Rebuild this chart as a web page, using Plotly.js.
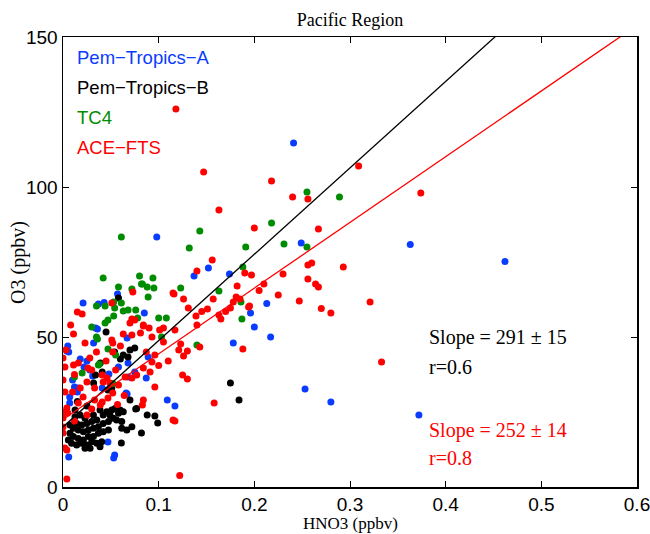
<!DOCTYPE html>
<html>
<head>
<meta charset="utf-8">
<script src="https://cdn.plot.ly/plotly-3.0.1.min.js"></script>
<style>html,body{margin:0;padding:0;background:#fff;}</style>
</head>
<body>
<div id="chart" style="width:650px;height:534px;"></div>
<script>
// ---- data (HNO3 ppbv, O3 ppbv) ----
var pemA_x = [0.241,0.249,0.363,0.462,0.098,0.152,0.137,0.174,0.085,0.196,0.213,0.200,0.217,0.253,0.280,0.372,0.178,0.109,0.117,0.067,0.047,0.054,0.053,0.006,0.007,0.021,0.037,0.057,0.036,0.005,0.004,0.067,0.032,0.018,0.025,0.028,0.068,0.048,0.068,0.087,0.012,0.007,0.015,0.066,0.034,0.006,0.022,0.010,0.016,0.075,0.089,0.041,0.043,0.031,0.058];
var pemA_y = [114.7,81.3,80.8,75.2,83.3,73.0,70.3,71.0,58.0,58.0,61.2,53.3,50.0,32.7,28.3,24.0,48.0,29.0,27.0,31.0,15.0,10.7,9.7,10.0,28.0,61.3,61.0,64.3,52.7,47.0,45.3,49.7,48.0,42.7,42.0,39.0,41.3,37.7,36.7,36.3,33.3,30.0,31.7,31.3,53.0,45.0,40.0,35.7,33.0,38.3,43.3,33.0,61.5,37.0,40.0];

var pemB_x = [0.0126,0.0178,0.023,0.0143,0.0195,0.0248,0.030,0.0353,0.0108,0.016,0.0213,0.0265,0.0318,0.037,0.042,0.0475,0.0527,0.058,0.0597,0.063,0.051,0.0544,0.049,0.056,0.0614,0.0073,0.0056,0.0108,0.016,0.0213,0.0265,0.0318,0.037,0.042,0.0475,0.0614,0.0667,0.072,0.077,0.009,0.0143,0.0195,0.0248,0.030,0.0353,0.0405,0.023,0.0283,0.0387,0.0073,0.0126,0.042,0.0387,0.0457,0.0318,0.175,0.184,0.096,0.099,0.061,0.076,0.058,0.045,0.063,0.068,0.060,0.039,0.041,0.032,0.051,0.047,0.034,0.070,0.075,0.054,0.088,0.082,0.025,0.015,0.070];
var pemB_y = [23.4,24.0,22.9,21.2,20.7,21.2,21.8,22.3,19.6,19.0,18.4,19.0,19.6,20.1,21.2,21.8,22.9,24.6,25.7,25.1,25.7,26.2,24.0,22.3,21.8,17.9,15.7,16.8,16.2,15.7,16.8,16.8,17.9,18.4,19.0,19.6,19.0,20.1,26.2,14.6,14.0,14.6,14.0,15.1,14.6,15.1,12.9,12.9,13.4,20.7,25.7,24.0,25.7,25.1,24.0,34.7,29.0,23.7,21.3,14.7,26.0,63.0,51.7,44.0,43.3,42.7,41.3,38.3,34.7,33.0,32.3,37.3,45.7,46.3,45.0,24.0,18.0,27.0,28.5,29.0];

var tc4_x = [0.061,0.042,0.080,0.094,0.058,0.082,0.088,0.095,0.089,0.061,0.143,0.132,0.123,0.035,0.044,0.054,0.063,0.068,0.076,0.053,0.078,0.100,0.108,0.218,0.255,0.289,0.231,0.191,0.255,0.188,0.163,0.186,0.187,0.103,0.140,0.044,0.047,0.030,0.035,0.036,0.037,0.020,0.038,0.012,0.053,0.083,0.047,0.055,0.072,0.052];
var tc4_y = [83.3,69.7,70.3,69.7,66.7,67.7,66.7,66.3,63.3,61.3,85.3,79.7,66.3,60.3,60.3,59.7,58.7,59.0,59.0,57.0,56.3,56.3,56.3,88.0,98.3,96.7,81.0,80.0,80.0,73.3,65.3,61.7,56.0,50.0,47.3,54.7,55.7,53.3,50.0,49.3,40.7,38.0,41.0,36.7,61.7,67.7,46.0,44.0,66.0,34.5];

var ace_x = [0.118,0.147,0.218,0.163,0.240,0.256,0.200,0.267,0.140,0.190,0.197,0.230,0.256,0.260,0.256,0.264,0.267,0.210,0.182,0.115,0.126,0.131,0.157,0.151,0.175,0.181,0.185,0.178,0.163,0.165,0.139,0.140,0.194,0.084,0.105,0.309,0.374,0.293,0.195,0.321,0.188,0.333,0.122,0.004,0.158,0.117,0.156,0.116,0.101,0.117,0.105,0.123,0.143,0.121,0.130,0.126,0.125,0.130,0.096,0.096,0.073,0.051,0.015,0.020,0.072,0.070,0.075,0.081,0.084,0.090,0.093,0.072,0.023,0.051,0.052,0.052,0.000,0.003,0.002,0.011,0.016,0.026,0.030,0.041,0.046,0.042,0.049,0.058,0.065,0.072,0.077,0.084,0.091,0.093,0.025,0.018,0.010,0.000,0.002,0.021,0.033,0.041,0.052,0.047,0.083,0.084,0.004,0.000,0.005,0.000,0.002,0.000,0.000,0.016,0.039,0.004,0.115,0.060,0.063,0.110,0.087,0.100,0.145,0.170,0.205,0.225,0.247,0.280,0.270,0.035,0.028,0.045,0.055,0.012,0.033,0.064,0.025,0.012,0.030,0.057,0.011,0.008];
var ace_y = [126.0,105.0,102.0,92.3,96.7,96.0,86.3,86.0,72.0,71.3,70.7,71.0,74.0,74.7,69.3,67.7,66.7,67.7,67.0,64.7,62.7,59.7,62.7,59.3,59.7,63.3,62.7,61.7,57.3,56.0,57.0,54.0,60.0,54.0,53.0,107.0,98.0,73.3,60.3,61.7,46.0,41.7,3.8,2.7,28.0,22.0,75.7,64.3,52.3,52.3,48.3,47.7,46.7,45.7,45.3,43.7,37.3,36.0,33.3,44.0,65.0,61.3,58.3,57.7,56.0,54.7,55.7,51.3,53.7,53.0,50.0,50.7,48.0,49.0,48.0,45.0,43.0,45.7,40.0,40.7,41.3,39.7,39.0,37.3,36.3,35.0,34.7,34.0,36.7,36.3,37.3,39.7,38.3,41.7,35.0,33.0,31.7,35.7,31.7,30.0,29.0,28.3,31.3,29.7,27.3,29.0,26.3,25.0,24.7,18.0,13.0,20.0,23.0,28.0,27.3,12.3,22.3,47.0,51.0,42.0,45.0,40.5,58.5,58.5,65.5,64.0,62.0,58.0,59.5,45.0,43.0,42.0,39.0,37.5,33.0,30.5,24.0,22.0,26.0,27.5,51.0,54.0];

// regression fits: [slope, intercept]
var fitB = [288, 20.0];
var fitACE = [219, 22.5];
var lineX = [0, 0.6];

var series = ['Pem\u2212Tropics\u2212A','Pem\u2212Tropics\u2212B','TC4','ACE\u2212FTS'];
var colors = ['#0a3cff','#000000','#008c00','#ff0000'];

function pts(x, y, c, n) {
  return {x: x, y: y, name: n, type: 'scatter', mode: 'markers',
          marker: {color: c, size: 7, line: {width: 0}}, showlegend: false};
}
function fitLine(f, c) {
  return {x: lineX, y: lineX.map(function(v){return f[1] + f[0]*v;}),
          type: 'scatter', mode: 'lines', line: {color: c, width: 1.3}, showlegend: false, hoverinfo: 'skip'};
}

var data = [
  pts(pemA_x, pemA_y, colors[0], series[0]),
  pts(pemB_x, pemB_y, colors[1], series[1]),
  pts(tc4_x, tc4_y, colors[2], series[2]),
  pts(ace_x, ace_y, colors[3], series[3]),
  fitLine(fitB, '#000000'),
  fitLine(fitACE, '#ff0000')
];

var sans = 'Liberation Sans, Arial, Helvetica, sans-serif';
var serif = 'Liberation Serif, Times New Roman, serif';

var legY = [143.3, 133.3, 123.3, 113.3];
var annotations = series.map(function(s, i){
  return {x: 0.0125, y: legY[i], xref: 'x', yref: 'y', text: s, showarrow: false,
          xanchor: 'left', yanchor: 'middle', font: {family: sans, size: 18.5, color: colors[i]}};
});
annotations.push(
  {x: 0.381, y: 50, xref:'x', yref:'y', text:'Slope = 291 \u00b1 15', showarrow:false, xanchor:'left', yanchor:'middle', font:{family:serif,size:20,color:'#000'}},
  {x: 0.381, y: 40, xref:'x', yref:'y', text:'r=0.6', showarrow:false, xanchor:'left', yanchor:'middle', font:{family:serif,size:20,color:'#000'}},
  {x: 0.381, y: 19, xref:'x', yref:'y', text:'Slope = 252 \u00b1 14', showarrow:false, xanchor:'left', yanchor:'middle', font:{family:serif,size:20,color:'#ff0000'}},
  {x: 0.381, y: 9.7, xref:'x', yref:'y', text:'r=0.8', showarrow:false, xanchor:'left', yanchor:'middle', font:{family:serif,size:20,color:'#ff0000'}},
  {x: 0.5, y: (487-523)/450, xref:'paper', yref:'paper', text:'HNO3 (ppbv)', showarrow:false, xanchor:'center', yanchor:'middle', font:{family:serif,size:17,color:'#000'}},
  {x: (18-63)/573, y: 0.5, xref:'paper', yref:'paper', text:'O3 (ppbv)', textangle:-90, showarrow:false, xanchor:'center', yanchor:'middle', font:{family:serif,size:20,color:'#000'}}
);

var axisCommon = {
  showgrid: false, zeroline: false, showline: true, linecolor: '#000', linewidth: 1.5,
  mirror: 'allticks', ticks: 'inside', ticklen: 6, tickwidth: 1, tickcolor: '#000',
  tickfont: {family: sans, size: 19, color: '#000'}, ticklabeloverflow: 'allow'
};

var layout = {
  width: 650, height: 534,
  margin: {l: 63, r: 13, t: 37, b: 47},
  paper_bgcolor: '#fff', plot_bgcolor: '#fff',
  title: {text: 'Pacific Region', font: {family: serif, size: 18, color: '#000'},
          x: 0.5, xref: 'paper', y: 1 - 20/534, yref: 'container', yanchor: 'middle'},
  xaxis: Object.assign({}, axisCommon, {range: [0, 0.6], tickvals: [0,0.1,0.2,0.3,0.4,0.5,0.6], ticktext: ['0','0.1','0.2','0.3','0.4','0.5','0.6']}),
  yaxis: Object.assign({}, axisCommon, {range: [0, 150], tickvals: [0,50,100,150], ticktext: ['0','50','100','150']}),
  annotations: annotations,
  showlegend: false
};

Plotly.newPlot('chart', data, layout, {displayModeBar: false, staticPlot: true});
</script>
</body>
</html>
